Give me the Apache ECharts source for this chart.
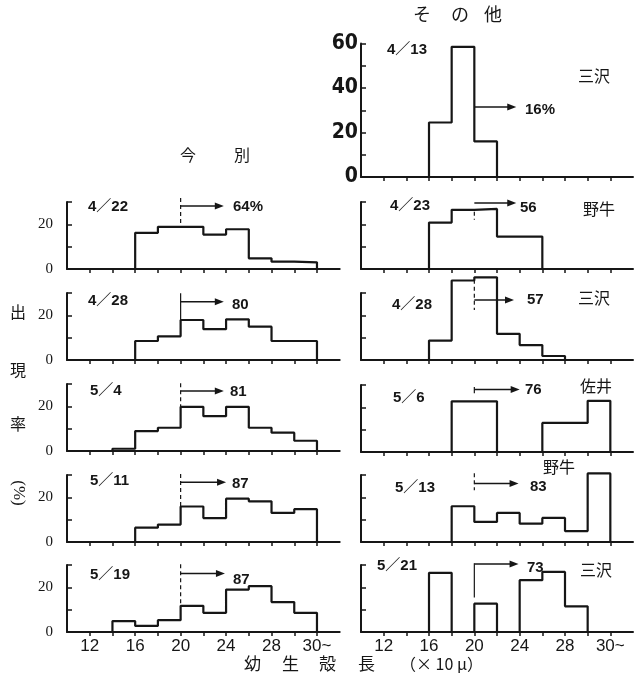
<!DOCTYPE html>
<html><head><meta charset="utf-8">
<script src="https://cdn.jsdelivr.net/npm/echarts@6/dist/echarts.min.js"></script>
<style>html,body{margin:0;padding:0;background:#fff}#c{width:642px;height:692px}</style>
</head><body><div id="c"></div>
<script>
// ---------- data ----------
const binStarts = [14, 16, 18, 20, 22, 24, 26, 28, 30];   // left edge of each bin (x10 μ), last bin = "30~"
const BIN_W = 2;
const xTickValues = [12, 14, 16, 18, 20, 22, 24, 26, 28, 30, 32];
const xLabelValues = [12, 16, 20, 24, 28, 32];
const xLabelText = { 32: '30~' };

// 今別
const imabetsu_0422 = [0, 16.2, 18.9, 18.9, 15.4, 17.8, 4.8, 3.3, 3.0];
const imabetsu_0428 = [0, 8.5, 10.6, 17.9, 13.8, 18.2, 14.9, 8.5, 8.5];
const imabetsu_0504 = [1.0, 8.9, 10.4, 19.8, 15.6, 19.8, 10.4, 8.2, 4.6];
const imabetsu_0511 = [0, 6.4, 7.8, 15.9, 10.7, 19.4, 18.2, 13.0, 14.7];
const imabetsu_0519 = [4.9, 2.7, 5.3, 11.7, 8.6, 19.0, 20.5, 13.4, 8.6];
// その他
const other_0413 = [0, 24.5, 58.5, 16.0, 0, 0, 0, 0, 0];
const other_0423 = [0, 20.8, 26.5, 26.9, 14.5, 14.5, 0, 0, 0];
const other_0428 = [0, 8.7, 35.6, 37.0, 11.7, 6.7, 1.8, 0, 0];
const other_0506 = [0, 0, 22.7, 22.7, 0, 0, 13.0, 13.0, 22.9];
const other_0513 = [0, 0, 16.0, 9.0, 13.0, 8.2, 10.8, 4.9, 30.7];
const other_0521 = [0, 26.5, 0, 12.7, 0, 23.2, 26.9, 11.5, 0];

const panelValues = [imabetsu_0422, imabetsu_0428, imabetsu_0504, imabetsu_0511, imabetsu_0519,
                     other_0413, other_0423, other_0428, other_0506, other_0513, other_0521];
const dateLabels = ['4／22', '4／28', '5／4', '5／11', '5／19', '4／13', '4／23', '4／28', '5／6', '5／13', '5／21'];
const shareLabels = ['64%', '80', '81', '87', '87', '16%', '56', '57', '76', '83', '73'];
const placeLabels = [null, null, null, null, null, '三沢', '野牛', '三沢', '佐井', '野牛', '三沢'];
// ">=20" marker: dashed line top/bottom, arrow level, arrow end (data units)
const dashTop    = [31.8, 29.9, 30.3, 30.5, 30.3, null, 25.6, 35.9, 29.1, 30.8, 30.8];
const dashBottom = [18.9, 17.9, 19.8, 15.9, 11.7, null, 22.0, 22.4, 26.3, 23.2, 15.5];
const arrowLevel = [28.2, 26.1, 26.9, 26.8, 26.2, 31.5, 29.5, 26.9, 28.0, 26.2, 30.4];
const arrowEnd   = [23.8, 23.8, 23.8, 24.0, 23.9, 23.7, 23.7, 23.5, 24.0, 23.9, 23.9];
const CUT = 20;

// ---------- layout ----------
const LEFT_X = 67, RIGHT_X = 361;
const panelLayout = [
  {left: LEFT_X, top: 202, h: 67, max: 30}, {left: LEFT_X, top: 293, h: 67, max: 30},
  {left: LEFT_X, top: 384, h: 67, max: 30}, {left: LEFT_X, top: 475, h: 67, max: 30},
  {left: LEFT_X, top: 565, h: 67, max: 30},
  {left: RIGHT_X, top: 43.5, h: 133.5, max: 60},
  {left: RIGHT_X, top: 202, h: 67, max: 30}, {left: RIGHT_X, top: 293, h: 67, max: 30},
  {left: RIGHT_X, top: 385, h: 67, max: 30}, {left: RIGHT_X, top: 475, h: 67, max: 30},
  {left: RIGHT_X, top: 565, h: 67, max: 30}
];
const INK = '#161616';
const SANS = "'Liberation Sans','Noto Sans CJK JP',sans-serif";
const CJK = "'Noto Sans CJK JP',sans-serif";

function stepPoints(vals) {
  let s = vals.findIndex(v => v > 0);
  let e = vals.length - 1; while (e > 0 && !(vals[e] > 0)) e--;
  const pts = [[binStarts[s], 0]];
  for (let i = s; i <= e; i++) pts.push([binStarts[i], vals[i]]);
  pts.push([binStarts[e] + BIN_W, 0]);
  return pts;
}

const grids = [], xAxes = [], yAxes = [], series = [];
panelLayout.forEach((p, i) => {
  const isBottom = (i === 4 || i === 10);
  const isTopRight = (i === 5);
  const isLeft = i < 5;
  grids.push({left: p.left, top: p.top, width: isLeft ? 272.7 : 272, height: p.h, containLabel: false});
  xAxes.push({
    type: 'value', gridIndex: i, min: 10, max: 34, interval: 2,
    axisLine: {show: true, onZero: false, lineStyle: {color: INK, width: 2}},
    axisTick: {show: true, customValues: xTickValues, length: 4, inside: false, lineStyle: {color: INK, width: 1.5}},
    axisLabel: {show: isBottom, customValues: xLabelValues, margin: 6,
      formatter: v => xLabelText[v] || String(v),
      color: INK, fontSize: 17, fontFamily: "'Liberation Sans',sans-serif"},
    splitLine: {show: false}
  });
  yAxes.push({
    type: 'value', gridIndex: i, min: 0, max: p.max, interval: 10,
    axisLine: {show: true, lineStyle: {color: INK, width: 2}},
    axisTick: {show: true, inside: true, length: 5,
      customValues: isTopRight ? [10, 20, 30, 40, 50, 60] : [10, 20, 30], lineStyle: {color: INK, width: 1.5}},
    axisLabel: isTopRight
      ? {show: true, customValues: [0, 20, 40, 60], margin: 3, color: INK, fontSize: 21, fontWeight: 'bold',
         fontFamily: "'Liberation Sans Narrow','DejaVu Sans Condensed',sans-serif"}
      : {show: isLeft, customValues: [0, 20], margin: 14, color: INK, fontSize: 15,
         fontFamily: "'Liberation Serif','DejaVu Serif',serif"},
    splitLine: {show: false}
  });
  series.push({
    type: 'line', xAxisIndex: i, yAxisIndex: i, data: stepPoints(panelValues[i]), step: 'end',
    symbol: 'none', clip: false, silent: true, animation: false,
    lineStyle: {color: INK, width: 2.2}
  });
});

const chart = echarts.init(document.getElementById('c'), null, {renderer: 'canvas'});
chart.setOption({backgroundColor: '#fff', animation: false, grid: grids, xAxis: xAxes, yAxis: yAxes, series: series});

// ---------- annotations (positioned through the chart's own scales) ----------
const g = [];
const toPx = (i, x, y) => chart.convertToPixel({xAxisIndex: i, yAxisIndex: i}, [x, y]);
panelLayout.forEach((p, i) => {
  if (dashTop[i] != null) {
    const a = toPx(i, CUT, dashTop[i]), b = toPx(i, CUT, dashBottom[i]);
    g.push({type: 'line', shape: {x1: a[0], y1: a[1], x2: b[0], y2: b[1]},
      style: {stroke: INK, lineWidth: 1.2, lineDash: (i === 1 || i === 8 || i === 10) ? null : [4, 3]}, silent: true});
  }
  const s = toPx(i, CUT, arrowLevel[i]), e = toPx(i, arrowEnd[i], arrowLevel[i]);
  g.push({type: 'line', shape: {x1: s[0], y1: s[1], x2: e[0] - 6, y2: e[1]}, style: {stroke: INK, lineWidth: 1.5}, silent: true});
  g.push({type: 'polygon', shape: {points: [[e[0], e[1]], [e[0] - 9, e[1] - 3.5], [e[0] - 9, e[1] + 3.5]]}, style: {fill: INK}, silent: true});
});

const B = 'bold';
const texts = [
  // [text, x, y, fontSize, family, weight]
  [dateLabels[0], 88, 207, 15, SANS, B], [shareLabels[0], 233, 207, 15, SANS, B],
  [dateLabels[1], 88, 301, 15, SANS, B], [shareLabels[1], 232, 305, 15, SANS, B],
  [dateLabels[2], 90, 391, 15, SANS, B], [shareLabels[2], 230, 392, 15, SANS, B],
  [dateLabels[3], 90, 481, 15, SANS, B], [shareLabels[3], 232, 484, 15, SANS, B],
  [dateLabels[4], 90, 575, 15, SANS, B], [shareLabels[4], 233, 580, 15, SANS, B],
  [dateLabels[5], 387, 50, 15, SANS, B], [shareLabels[5], 525, 110, 15, SANS, B], [placeLabels[5], 578, 76, 16, CJK],
  [dateLabels[6], 390, 206, 15, SANS, B], [shareLabels[6], 520, 208, 15, SANS, B], [placeLabels[6], 583, 209, 16, CJK],
  [dateLabels[7], 392, 305, 15, SANS, B], [shareLabels[7], 527, 300, 15, SANS, B], [placeLabels[7], 578, 298, 16, CJK],
  [dateLabels[8], 393, 398, 15, SANS, B], [shareLabels[8], 525, 390, 15, SANS, B], [placeLabels[8], 580, 386, 16, CJK],
  [dateLabels[9], 395, 488, 15, SANS, B], [shareLabels[9], 530, 487, 15, SANS, B], [placeLabels[9], 543, 467, 16, CJK],
  [dateLabels[10], 377, 566, 15, SANS, B], [shareLabels[10], 527, 568, 15, SANS, B], [placeLabels[10], 580, 570, 16, CJK],
  // column titles
  ['そ', 413, 14, 18, CJK], ['の', 451, 14, 18, CJK], ['他', 484, 14, 18, CJK],
  ['今', 180, 155, 16, CJK], ['別', 234, 155, 16, CJK],
  // y title
  ['出', 10, 312, 16, CJK], ['現', 10, 370, 16, CJK], ['率', 10, 424, 16, CJK],
  // x title
  ['幼', 244, 664, 17, CJK], ['生', 282, 664, 17, CJK], ['殻', 319, 664, 17, CJK], ['長', 358, 664, 17, CJK],
  ['（× 10 μ）', 400, 664, 16, CJK]
];
texts.forEach(t => {
  g.push({type: 'text', x: t[1], y: t[2], silent: true,
    style: {text: t[0], fill: INK, fontSize: t[3], fontFamily: t[4], fontWeight: t[5] || 'normal',
            align: 'left', verticalAlign: 'middle'}});
});
g.push({type: 'text', x: 18, y: 493, rotation: -Math.PI / 2, silent: true,
  style: {text: '(%)', fill: INK, fontSize: 17, fontFamily: "'Liberation Serif',serif", align: 'center', verticalAlign: 'middle'}});

chart.setOption({graphic: g});
</script>
</body></html>
